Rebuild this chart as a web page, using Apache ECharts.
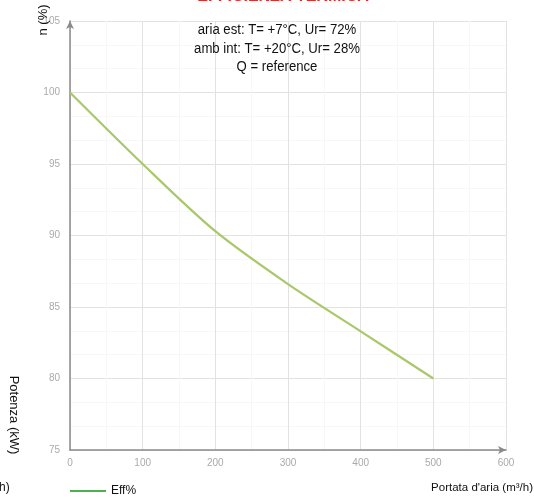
<!DOCTYPE html>
<html><head><meta charset="utf-8">
<script src="https://cdn.jsdelivr.net/npm/echarts@6/dist/echarts.min.js"></script>
<style>html,body{margin:0;padding:0;background:#fff}#c{width:534px;height:500px}</style>
</head><body><div id="c"></div>
<script>
const xValues = [0, 100, 200, 300, 400, 500];
const effValues = [100, 95, 90.3, 86.6, 83.3, 80];
const seriesName = 'Eff%';
const titleText = 'EFFICIENZA TERMICA';
const noteLines = ['aria est: T= +7°C, Ur= 72%', 'amb int: T= +20°C, Ur= 28%', 'Q = reference'];
const yAxisName = 'n (%)';
const y2Name = 'Potenza (kW)';
const xAxisName = "Portata d'aria (m³/h)";

const chart = echarts.init(document.getElementById('c'));
const font = 'Liberation Sans, Arial, sans-serif';
chart.setOption({
  animation: false,
  backgroundColor: '#fff',
  grid: { left: 70, right: 28, top: 21, bottom: 50 },
  xAxis: {
    type: 'value', min: 0, max: 600, interval: 100,
    axisLine: { show: true, lineStyle: { color: '#8a8a8a', width: 1.5 }, symbol: ['none', 'arrow'], symbolSize: [6, 8] },
    axisTick: { show: false },
    axisLabel: { color: '#aaa', fontSize: 10, margin: 8, fontFamily: font },
    splitLine: { show: true, lineStyle: { color: '#e2e2e2' } },
    minorTick: { show: false, splitNumber: 2 },
    minorSplitLine: { show: true, lineStyle: { color: '#f7f7f7' } }
  },
  yAxis: {
    type: 'value', min: 75, max: 105, interval: 5,
    axisLine: { show: true, lineStyle: { color: '#8a8a8a', width: 1.5 }, symbol: ['none', 'arrow'], symbolSize: [6, 8] },
    axisTick: { show: false },
    axisLabel: { color: '#aaa', fontSize: 10, margin: 10, fontFamily: font },
    splitLine: { show: true, lineStyle: { color: '#e2e2e2' } },
    minorTick: { show: false, splitNumber: 3 },
    minorSplitLine: { show: true, lineStyle: { color: '#f7f7f7' } }
  },
  legend: {
    left: 65, top: 480, icon: 'rect', itemWidth: 36, itemHeight: 2, itemGap: 4,
    textStyle: { color: '#111', fontSize: 12, fontFamily: font },
    data: [{ name: seriesName, itemStyle: { color: '#4caf50' } }]
  },
  series: [{
    name: seriesName, type: 'line', smooth: 0.3, showSymbol: false,
    lineStyle: { color: '#a9c86a', width: 2.2 },
    itemStyle: { color: '#4caf50' },
    data: xValues.map((x, i) => [x, effValues[i]])
  }],
  graphic: [
    { type: 'text', z: 100, x: 283, y: -3, style: { text: titleText, fill: '#e32b2b', font: 'bold 16px ' + font, align: 'center', verticalAlign: 'middle' } },
    { type: 'text', z: 100, x: 277, y: 30, style: { text: noteLines[0], fill: '#111', font: '14px ' + font, align: 'center', verticalAlign: 'middle' }, scaleX: 0.94 },
    { type: 'text', z: 100, x: 277, y: 49, style: { text: noteLines[1], fill: '#111', font: '14px ' + font, align: 'center', verticalAlign: 'middle' }, scaleX: 0.94 },
    { type: 'text', z: 100, x: 277, y: 67.5, style: { text: noteLines[2], fill: '#111', font: '14px ' + font, align: 'center', verticalAlign: 'middle' }, scaleX: 0.94 },
    { type: 'text', z: 100, x: 43, y: 20, rotation: Math.PI / 2, style: { text: yAxisName, fill: '#111', font: '13px ' + font, align: 'center', verticalAlign: 'middle' } },
    { type: 'text', z: 100, x: 14, y: 415, rotation: -Math.PI / 2, style: { text: y2Name, fill: '#111', font: '13px ' + font, align: 'center', verticalAlign: 'middle' } },
    { type: 'text', z: 100, x: 533, y: 488, style: { text: xAxisName, fill: '#111', font: '11.5px ' + font, align: 'right', verticalAlign: 'middle' } },
    { type: 'text', z: 100, x: -1, y: 488, style: { text: 'h)', fill: '#111', font: '12px ' + font, align: 'left', verticalAlign: 'middle' } }
  ]
});
</script></body></html>
